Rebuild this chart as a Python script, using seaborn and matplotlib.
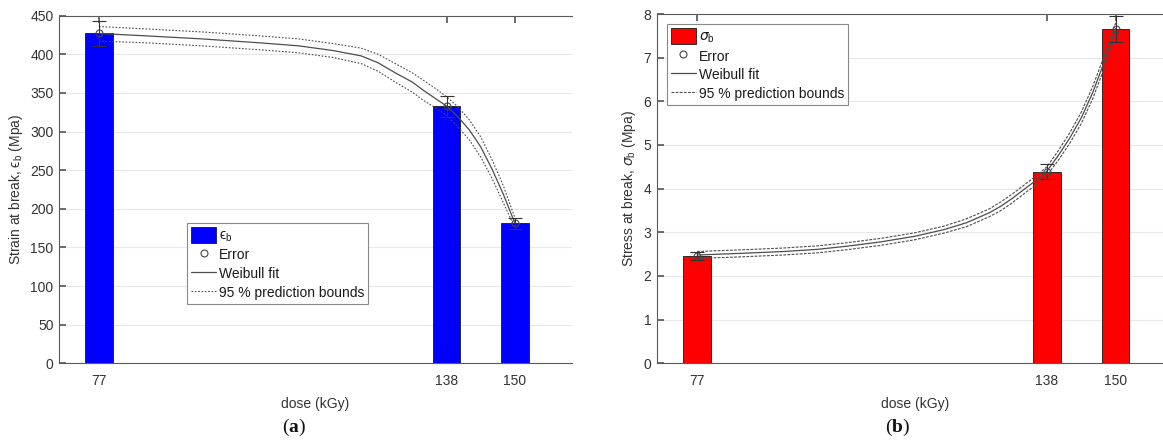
import matplotlib
matplotlib.use("Agg")
import matplotlib.pyplot as plt
import seaborn as sns
from matplotlib.patches import Patch
from matplotlib.lines import Line2D

# ---------------- data ----------------
dose = [77, 138, 150]
dose_ticks = [77, 138, 150]

strain = [427, 333, 181]
strain_err = [16.5, 13.5, 6.5]

stress = [2.46, 4.39, 7.65]
stress_err = [0.10, 0.17, 0.30]

fit_dose_a = [77, 85, 95, 105, 112, 118, 123, 126, 129, 132, 134, 136, 138, 140, 142, 144, 146, 148, 150]
fit_a = [427, 424, 420, 415, 411, 405, 398, 389, 376, 364, 353, 343, 333, 319, 302, 280, 251, 218, 181]
upper_a = [436, 433, 429, 424, 420, 414, 408, 400, 388, 376, 366, 356, 345, 332, 315, 293, 263, 229, 188]
lower_a = [417, 415, 411, 406, 402, 396, 388, 378, 364, 351, 340, 331, 321, 306, 289, 267, 239, 207, 175]

fit_dose_b = [77, 85, 92, 98, 103, 109, 115, 120, 124, 128, 130, 132, 134, 136, 138, 140, 142, 144, 146, 148, 150]
fit_b = [2.48, 2.52, 2.56, 2.61, 2.68, 2.78, 2.91, 3.06, 3.22, 3.45, 3.60, 3.78, 3.98, 4.18, 4.40, 4.76, 5.16, 5.62, 6.20, 6.90, 7.67]
upper_b = [2.56, 2.60, 2.64, 2.69, 2.76, 2.86, 2.99, 3.14, 3.31, 3.54, 3.70, 3.88, 4.08, 4.28, 4.50, 4.87, 5.28, 5.75, 6.34, 7.04, 7.80]
lower_b = [2.40, 2.44, 2.48, 2.53, 2.60, 2.70, 2.83, 2.98, 3.13, 3.36, 3.50, 3.68, 3.88, 4.08, 4.30, 4.65, 5.04, 5.49, 6.06, 6.76, 7.54]

# ---------------- style ----------------
sns.set_theme(style="white")
plt.rcParams["font.family"] = ["Liberation Sans", "DejaVu Sans"]
plt.rcParams["mathtext.fontset"] = "custom"
plt.rcParams["mathtext.rm"] = "Liberation Sans"
plt.rcParams["mathtext.it"] = "DejaVu Sans:italic"
plt.rcParams["mathtext.bf"] = "Liberation Serif:bold"

TXT = "#333333"
SPINE = "#5a5a5a"
CURVE = "#4d4d4d"

fig = plt.figure(figsize=(11.63, 4.43), dpi=100)
axA = fig.add_axes([59 / 1163, 1 - 363.3 / 443, 513 / 1163, 347.6 / 443])
axB = fig.add_axes([657 / 1163, 1 - 363.3 / 443, 516 / 1163, 349.3 / 443])


def panel(ax, vals, errs, fx, fy, up, lo, color, ylim, yticks, ylabel, leglabel, legpos, bound_ls, caption, capx):
    sns.barplot(x=dose, y=vals, native_scale=True, width=0.4, color=color, saturation=1,
                edgecolor="#1a1a1a", linewidth=0.6, ax=ax, zorder=2)
    sns.lineplot(x=fx, y=up, ax=ax, color=CURVE, lw=0.8, linestyle=bound_ls, zorder=3, legend=False)
    sns.lineplot(x=fx, y=lo, ax=ax, color=CURVE, lw=0.8, linestyle=bound_ls, zorder=3, legend=False)
    sns.lineplot(x=fx, y=fy, ax=ax, color=CURVE, lw=0.9, linestyle="-", zorder=3, legend=False)
    ax.errorbar(dose, vals, yerr=errs, fmt="o", mfc="none", mec="#444444", ms=5, mew=0.8,
                ecolor="#333333", elinewidth=0.8, capsize=5, capthick=0.8, zorder=5)
    ax.set_xlim(70, 160)
    ax.set_ylim(*ylim)
    ax.set_xticks(dose_ticks)
    ax.set_xticklabels([str(d) for d in dose_ticks])
    ax.set_yticks(yticks)
    ax.set_yticklabels([str(t) for t in yticks])
    ax.yaxis.grid(True, color="#e8e8e8", lw=0.8)
    ax.xaxis.grid(False)
    ax.set_axisbelow(True)
    for s in ["left", "bottom", "top"]:
        ax.spines[s].set_color(SPINE)
        ax.spines[s].set_linewidth(0.8)
    ax.spines["right"].set_visible(False)
    ax.tick_params(axis="x", direction="in", length=5, color=SPINE, labelsize=10,
                   labelcolor=TXT, top=True, bottom=True, labeltop=False, pad=8)
    ax.tick_params(axis="y", direction="in", length=5, color=SPINE, labelsize=10,
                   labelcolor=TXT, left=True, right=False, pad=4)
    ax.set_xlabel("dose (kGy)", fontsize=10, color=TXT, labelpad=6)
    ax.set_ylabel(ylabel, fontsize=10, color=TXT, labelpad=4)
    handles = [
        Patch(facecolor=color, edgecolor="#1a1a1a", linewidth=0.6),
        Line2D([], [], ls="none", marker="o", mfc="none", mec="#444444", ms=5, mew=0.8),
        Line2D([], [], color=CURVE, lw=0.9),
        Line2D([], [], color=CURVE, lw=0.8, ls=bound_ls),
    ]
    labels = [leglabel, "Error", "Weibull fit", "95 % prediction bounds"]
    leg = ax.legend(handles, labels, loc="upper left", bbox_to_anchor=legpos, fontsize=10,
                    frameon=True, fancybox=False, framealpha=1, edgecolor="#888888",
                    handlelength=1.8, handleheight=1.35, handletextpad=0.2, labelspacing=0.22,
                    borderpad=0.3, borderaxespad=0)
    leg.get_frame().set_linewidth(0.8)
    for t in leg.get_texts():
        t.set_color("#1a1a1a")
    fig.text(capx / 1163, 1 - 427 / 443, caption, fontsize=14, family="Liberation Serif",
             ha="center", va="center", color="#111111")


panel(axA, strain, strain_err, fit_dose_a, fit_a, upper_a, lower_a, "#0000ff",
      (0, 450), list(range(0, 451, 50)), "Strain at break, ϵ$_{\\mathrm{b}}$ (Mpa)",
      "ϵ$_{\\mathrm{b}}$", (0.2495, 0.4036), (0, (1.5, 1.5)), r"($\mathbf{a}$)", 294)
panel(axB, stress, stress_err, fit_dose_b, fit_b, upper_b, lower_b, "#ff0000",
      (0, 8), list(range(0, 9)), r"Stress at break, $\sigma_{\mathrm{b}}$ (Mpa)",
      r"$\sigma_{\mathrm{b}}$", (0.019, 0.971), (0, (2.5, 1.2)), r"($\mathbf{b}$)", 898)

fig.savefig("out.png", dpi=100, facecolor="white")
